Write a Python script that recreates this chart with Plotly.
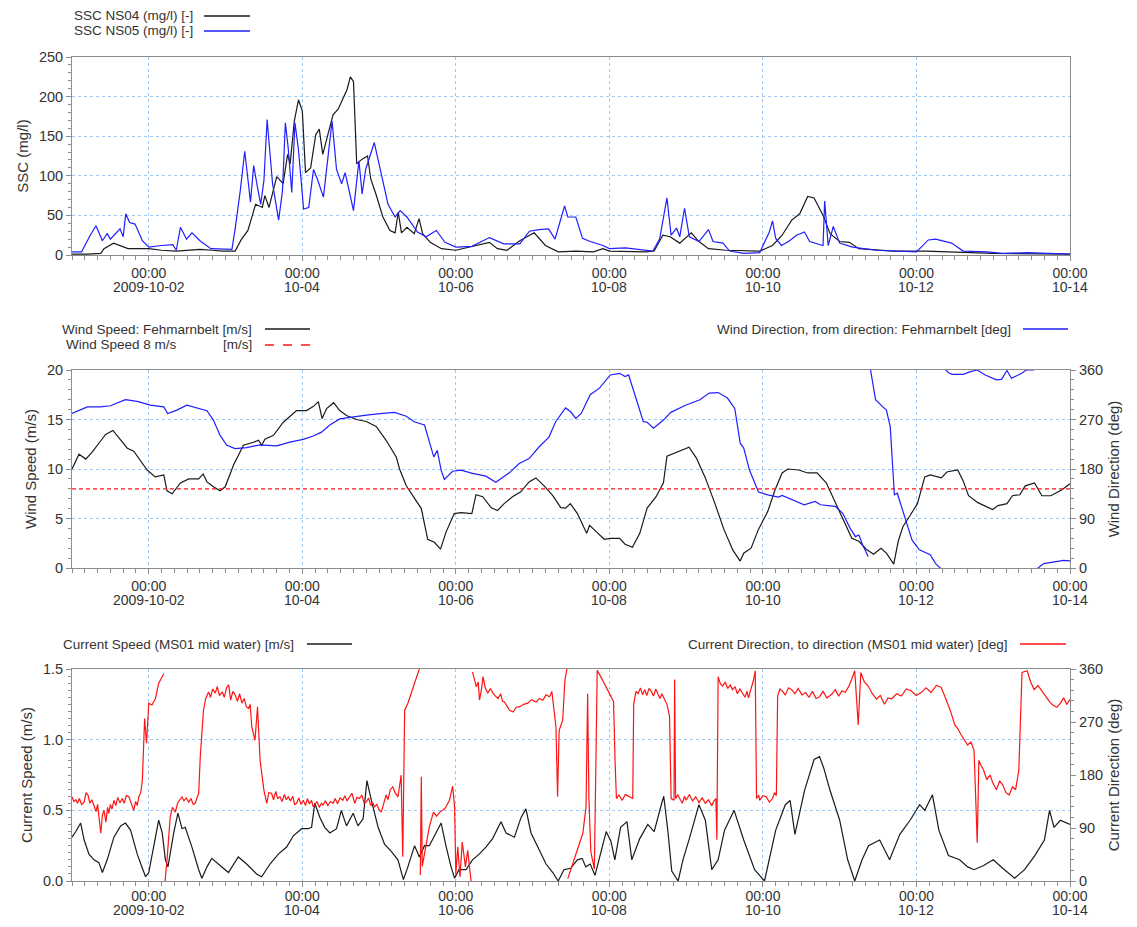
import pandas as pd
import plotly.graph_objects as go

# all series: (hours after 2009-10-01 00:00, value)
T0 = pd.Timestamp("2009-10-01 00:00")

ssc_ns04 = [(0, 1), (5, 1), (9, 2), (10, 8), (13, 15), (15, 12), (17.5, 8), (24, 8), (28, 6), (32.6, 5),
            (40, 7), (44, 6), (47, 5), (51, 5), (53, 20), (55, 31), (57.4, 64), (59.5, 60), (60.3, 75),
            (61.6, 60), (64, 99), (66, 90), (67.4, 127), (68.2, 115), (69.5, 169), (70.8, 196), (72, 182),
            (73, 104), (74.6, 110), (76.2, 152), (77.3, 159), (78.4, 127), (80, 154), (81.6, 177),
            (83.2, 184), (84.3, 193), (86, 209), (87, 225), (88, 219), (89, 115), (90.7, 121), (92.4, 125),
            (93.4, 96), (95, 77), (97.2, 48), (99.4, 31), (101, 28), (102, 54), (103, 28), (104.7, 35),
            (107, 27), (108.5, 46), (109.6, 27), (112, 16), (115.5, 8), (120, 6), (125, 11), (130.5, 16),
            (133, 8), (136, 6), (140, 18), (144.5, 28), (148, 12), (152, 4), (157.5, 5), (163, 4), (166, 8),
            (168, 5), (179.5, 4), (182, 5), (184.7, 25), (187, 23), (190, 15), (193.6, 28), (196, 17),
            (199, 8), (204.5, 6), (215, 5), (219, 12), (222, 25), (225, 44), (227.5, 52), (230, 74),
            (232, 72), (234.8, 50), (237, 27), (240, 17), (243, 16), (246, 8), (256.7, 5), (267, 5),
            (277.6, 3), (288, 2), (312, 1)]

ssc_ns05 = [(0, 4), (3, 4), (5.7, 25), (7.5, 37), (9.5, 18), (11, 27), (12, 20), (15, 33), (16, 23),
            (16.8, 52), (18, 41), (19.7, 39), (22, 18), (24, 10), (28, 12), (31.5, 13), (32.6, 6),
            (33.9, 35), (35.8, 20), (37.5, 28), (40, 18), (43.4, 8), (50, 7), (51, 33), (52.6, 81),
            (54, 131), (55.8, 67), (56.8, 113), (58, 85), (59, 64), (60, 94), (61, 171), (62.7, 90),
            (64.6, 44), (65.8, 81), (66.7, 167), (67.6, 135), (68.7, 79), (69.7, 167), (70.8, 133),
            (72.4, 58), (74, 60), (75.5, 108), (76.7, 96), (78.6, 73), (80, 127), (81.3, 169), (82.7, 108),
            (84.3, 90), (85.4, 104), (88, 56), (89.7, 119), (90.7, 77), (91.8, 108), (94.5, 142),
            (96.7, 102), (98.8, 64), (101, 48), (102.6, 56), (104.7, 48), (108, 29), (110.7, 23),
            (113.9, 31), (116.6, 16), (120, 10), (125, 11), (130.5, 22), (135, 14), (140, 14), (143, 30),
            (146, 32), (149, 33), (151, 20), (153, 48), (154, 62), (155, 48), (157.5, 48), (159.6, 21),
            (162, 17), (166, 12), (168, 8), (173, 9), (181.6, 5), (183.7, 20), (186, 72), (187.3, 25),
            (189, 34), (190, 23), (191.5, 59), (193, 23), (196, 17), (199, 32), (200.4, 17), (203.5, 15),
            (205.6, 5), (210, 2), (215, 3), (218, 29), (219, 43), (220, 21), (221.8, 12), (224, 17),
            (226.5, 25), (229, 29), (230.6, 17), (234.8, 12), (235.3, 68), (236.4, 12), (238, 36),
            (240, 15), (244, 10), (251.5, 6), (261, 5), (264, 4), (267.7, 19), (270, 20), (275, 15),
            (278.6, 5), (286, 4), (291, 2), (298.5, 3), (312, 1)]

wind_speed = [(0, 10.0), (2.2, 11.5), (4.3, 11.0), (6.3, 11.7), (8.4, 12.6), (10.5, 13.5), (12.8, 13.9),
              (15.2, 12.9), (17.3, 12.1), (19.3, 11.8), (21.4, 10.9), (23.5, 9.9), (26, 9.2), (28.7, 9.4),
              (29.7, 7.8), (31.3, 7.5), (33.9, 8.6), (36.5, 9.0), (39.6, 9.0), (41, 9.5), (42.2, 8.7),
              (44.2, 8.2), (46.3, 7.8), (47.9, 8.2), (50.5, 10.4), (53.6, 12.4), (56.7, 12.7), (58.3, 12.9),
              (59.3, 12.4), (60.3, 13.0), (63, 13.4), (66, 14.7), (68.1, 15.3), (70.2, 15.9), (73.3, 15.9),
              (75.4, 16.3), (77, 16.8), (78.2, 15.1), (79.6, 16.1), (81.8, 16.7), (83.7, 15.9), (85.8, 15.4),
              (88.9, 15.0), (92, 14.8), (95.1, 14.3), (98.2, 12.9), (101.4, 11.2), (102.4, 10.0),
              (104.5, 8.3), (107.6, 6.8), (109.2, 6.0), (111.2, 2.9), (113.3, 2.6), (115.2, 1.9),
              (116.9, 3.6), (119.5, 5.5), (121.6, 5.6), (125, 5.5), (126.3, 7.4), (128.4, 7.2), (131, 6.1),
              (133, 5.8), (135.1, 6.5), (137.7, 7.2), (140.3, 7.7), (142.9, 8.7), (145, 9.1), (147.6, 8.3),
              (150.3, 7.3), (152.8, 6.1), (154.3, 6.05), (155.8, 6.5), (158, 5.5), (160.9, 3.5), (161.8, 4.3),
              (163.8, 3.7), (166.4, 2.9), (168.3, 3.0), (171.2, 3.0), (172.9, 2.4), (175.2, 2.1), (177.5, 3.5),
              (179.8, 6.05), (182.6, 7.2), (184.9, 8.6), (186, 11.3), (188.3, 11.6), (190.6, 11.9),
              (192.9, 12.2), (195.2, 11.1), (198, 9.1), (200.9, 6.6), (203.8, 3.9), (206.6, 1.8), (208.9, 0.7),
              (210, 1.5), (212.3, 2.0), (214.6, 3.9), (217.5, 5.7), (219.8, 7.9), (222, 9.6), (223.8, 10.0),
              (227.2, 9.9), (230, 9.6), (232.9, 9.6), (235.8, 8.6), (238.6, 6.6), (241.5, 4.5), (243.8, 3.0),
              (246, 2.7), (248.3, 1.9), (250.6, 1.4), (252.9, 2.0), (254.6, 1.5), (256.9, 0.4), (258.3, 2.7),
              (259.8, 4.2), (262, 5.3), (264.3, 6.5), (266.6, 9.2), (268.3, 9.4), (271.8, 9.1), (273.5, 9.7),
              (276.9, 9.9), (278.6, 8.8), (280.3, 7.3), (283.2, 6.6), (287.8, 5.9), (289.5, 6.3), (292.3, 6.5),
              (294, 7.3), (296.3, 7.4), (298, 8.3), (300.9, 8.6), (303.2, 7.3), (306, 7.3), (309.5, 7.9),
              (312, 8.5)]

wind_limit = 8  # m/s reference line

# None = gap where the direction wraps past 0/360
wind_dir = [(0, 281), (2.7, 288), (4.8, 293), (8.9, 293), (12, 295), (16.7, 306), (20.4, 303), (24.5, 296),
            (28.7, 293), (29.9, 281), (32.8, 287), (35.9, 296), (39, 291), (42.2, 286), (44.2, 269),
            (46.3, 241), (48.4, 223), (51, 217), (54.6, 219), (58.8, 224), (64, 222), (68.1, 229),
            (72.3, 234), (75.4, 240), (78, 247), (80.6, 260), (83.7, 271), (87.9, 275), (92, 278),
            (97.2, 281), (100.8, 283), (104.5, 276), (107, 266), (110.2, 260), (111.7, 229), (113.1, 202),
            (114.2, 214), (115.4, 178), (116.4, 161), (119, 176), (121.6, 178), (125.2, 172), (129.4, 167),
            (132.5, 156), (136.7, 173), (139.8, 190), (142.9, 199), (146, 220), (149.1, 238), (151.2, 266),
            (154.3, 291), (155.9, 284), (157.5, 272), (159.2, 281), (162, 315), (164.9, 327), (168.3, 351),
            (171.2, 354), (172.9, 348), (174, 351), (176.3, 309), (178.6, 266), (179.8, 265), (181.8, 254),
            (184.9, 269), (187.2, 283), (191.8, 296), (196.3, 306), (199.2, 318), (202, 319), (204.9, 309),
            (207.2, 290), (208.9, 227), (210, 218), (211.8, 178), (214.6, 138), (217.5, 133), (220.9, 129),
            (222, 132), (225.5, 124), (228.9, 115), (232.3, 121), (234, 115), (238.6, 112), (240.9, 100),
            (243.2, 73), (244.9, 57), (246, 60), (247.2, 42), (248.9, 21), (249.3, None),
            (249.6, 362), (251.2, 306), (253.5, 293), (254.6, 287), (255.8, 257), (256.3, 203), (257.1, 133),
            (258, 136), (260.3, 94), (262.6, 51), (264.9, 33), (268.3, 24), (270, 8), (271.8, -2),
            (272.3, None),
            (272.9, 362), (274, 355), (275.2, 352), (278.6, 352), (280.9, 357), (283, 360), (285.5, 351),
            (289, 342), (290.6, 343), (292.3, 359), (293.7, 345), (296.9, 354), (298.3, 360), (300.6, 360),
            (301, 363), (301.3, None),
            (301.6, -3), (302, 0), (303.8, 8), (307.2, 12), (310, 14), (312, 13)]

cur_speed = [(0, 0.31), (1.2, 0.35), (2.7, 0.41), (3.8, 0.29), (5.3, 0.19), (6.9, 0.15), (8.4, 0.13),
             (9.5, 0.06), (11, 0.15), (13.1, 0.31), (15.2, 0.39), (16.7, 0.41), (18.3, 0.36), (20.4, 0.19),
             (22, 0.09), (23, 0.03), (24, 0.06), (25.6, 0.24), (27.1, 0.43), (28.2, 0.34), (29.2, 0.15),
             (30, 0.10), (31.8, 0.34), (33.1, 0.48), (34.4, 0.37), (35.4, 0.38), (37.5, 0.24), (39.6, 0.08),
             (40.6, 0.02), (42.2, 0.10), (43.7, 0.16), (46.3, 0.11), (48.9, 0.06), (52, 0.17), (54.6, 0.12),
             (57.7, 0.05), (59.3, 0.03), (61.9, 0.12), (64.5, 0.19), (67.1, 0.24), (69.2, 0.32), (71.8, 0.37),
             (73.8, 0.37), (74.9, 0.38), (75.9, 0.55), (77.5, 0.45), (79, 0.38), (80.6, 0.34), (82.7, 0.37),
             (84.2, 0.50), (85.8, 0.39), (87.9, 0.48), (89.4, 0.39), (91, 0.44), (92.2, 0.71), (93.6, 0.57),
             (95.7, 0.38), (97.7, 0.26), (99.8, 0.21), (101.9, 0.15), (103.6, 0.01), (105, 0.10),
             (107.1, 0.25), (108.6, 0.17), (110.2, 0.25), (111.7, 0.25), (113.8, 0.34), (115.4, 0.41),
             (117, 0.24), (118.5, 0.10), (119.6, 0.02), (121, 0.08), (123.2, 0.08), (125.2, 0.15),
             (127.3, 0.19), (129.4, 0.24), (131.5, 0.30), (134.1, 0.42), (135.7, 0.34), (138.3, 0.31),
             (140.4, 0.45), (141.9, 0.51), (143.5, 0.34), (145.6, 0.24), (148.2, 0.12), (150.3, 0.06),
             (152, 0.00), (153.8, 0.08), (155.9, 0.09), (158, 0.15), (159.5, 0.16), (160.6, 0.10),
             (162, 0.12), (163.5, 0.04), (165, 0.18), (167, 0.35), (168.5, 0.28), (169.7, 0.15),
             (171.5, 0.38), (173.5, 0.42), (175, 0.15), (177.5, 0.30), (180, 0.40), (182, 0.35), (184, 0.52),
             (185, 0.60), (186.3, 0.35), (187.5, 0.07), (189.5, 0.00), (191, 0.15), (193, 0.30), (196, 0.54),
             (198, 0.43), (200, 0.08), (202, 0.15), (204, 0.36), (207, 0.50), (210, 0.29), (213.4, 0.08),
             (216.5, 0.00), (220, 0.36), (223, 0.54), (224.5, 0.57), (226, 0.33), (229, 0.64), (232, 0.86),
             (233.7, 0.88), (235, 0.80), (237, 0.64), (240, 0.43), (242.5, 0.15), (244.7, 0.00), (247, 0.15),
             (249, 0.25), (252.5, 0.29), (255.6, 0.15), (258.8, 0.33), (262, 0.43), (265, 0.54), (266.6, 0.50),
             (269, 0.61), (271, 0.36), (274, 0.18), (277.5, 0.15), (280, 0.10), (282, 0.08), (285, 0.11),
             (288, 0.15), (291.5, 0.08), (294.7, 0.02), (297.8, 0.08), (301, 0.18), (304, 0.29), (305.6, 0.50),
             (307, 0.38), (309, 0.43), (312, 0.40)]

cur_dir = [(0, 143), (0.6, 135), (1.2, 138), (1.7, 132), (2.3, 140), (3, 130), (3.8, 134), (4.4, 150),
           (5, 146), (5.6, 132), (6.2, 138), (6.9, 126), (7.5, 118), (8, 130), (8.4, 109), (9, 81),
           (9.5, 112), (10, 120), (10.6, 100), (11.1, 125), (11.5, 115), (12, 130), (12.5, 122), (13.1, 137),
           (13.7, 128), (14.3, 142), (15, 133), (15.7, 140), (16.3, 132), (17, 145), (17.8, 143), (18.4, 135),
           (19, 125), (19.3, 120), (19.9, 135), (20.4, 128), (20.9, 143), (21.5, 150), (22, 171), (22.7, 276),
           (23.3, 234), (24, 302), (25, 299), (26.1, 310), (27.1, 336), (28.7, 352), (28.8, None),
           (29.1, 0), (29.7, 35), (30.7, 109), (31.4, 125), (32.3, 117), (33, 132), (33.7, 138), (34.4, 143),
           (35, 136), (35.7, 141), (36.5, 134), (37.2, 140), (37.9, 130), (38.5, 132), (39, 140), (39.6, 149),
           (40.1, 211), (41.1, 290), (41.8, 310), (42.7, 321), (43.3, 312), (44, 326), (44.8, 319),
           (45.4, 330), (46.1, 315), (47, 321), (47.6, 312), (48.3, 328), (49, 333), (49.6, 307), (50.3, 322),
           (51, 316), (51.7, 305), (52.4, 318), (53.1, 302), (53.8, 310), (54.5, 296), (55.2, 293),
           (55.7, 300), (56.2, 262), (57.2, 239), (58, 296), (58.8, 205), (60, 154), (60.9, 132), (61.5, 150),
           (62.4, 149), (63, 138), (63.7, 152), (64.3, 140), (65, 143), (65.7, 135), (66.4, 147), (67, 138),
           (67.6, 143), (68.3, 136), (69, 144), (69.6, 130), (70.2, 132), (70.9, 141), (71.6, 130), (72.3, 137),
           (73, 128), (73.6, 140), (74.2, 131), (74.9, 137), (75.4, 126), (75.9, 129), (76.6, 135), (77.3, 125),
           (78, 132), (78.5, 129), (79.2, 136), (80, 128), (80.8, 135), (81.6, 132), (82.3, 140), (83, 131),
           (83.8, 141), (84.7, 137), (85.3, 145), (86, 136), (86.8, 143), (87.5, 149), (88.4, 132), (89.1, 142),
           (89.9, 140), (90.6, 146), (91.3, 133), (92, 134), (92.7, 141), (93.4, 128), (94, 133), (94.6, 126),
           (95.3, 130), (96, 121), (96.7, 117), (97.4, 130), (98.2, 146), (98.8, 138), (99.5, 155),
           (100.3, 160), (101, 150), (101.9, 143), (102.4, 165), (102.9, 180), (103.4, 41), (104, 290),
           (105, 302), (106.6, 327), (108.1, 353), (108.7, 362), (108.8, None),
           (108.9, 10), (109.2, 177), (109.5, 25), (110.5, 58), (111.7, 92), (113, 117), (114, 110), (115, 117),
           (116.6, 123), (118, 137), (119, 161), (119.6, 126), (120, 12), (120.6, 58), (121.3, 7), (122, 66),
           (123, 24), (123.7, 52), (124.5, 7), (124.8, -2), (125, None),
           (125.2, 355), (125.8, 340), (126.4, 330), (127, 338), (127.4, 307), (128, 325), (128.5, 347),
           (129.2, 328), (130, 319), (130.8, 327), (131.6, 319), (132.4, 314), (133.2, 310), (134, 318),
           (134.6, 305), (135.2, 304), (136, 298), (136.8, 290), (137.9, 287), (138.9, 295), (140, 296),
           (141.2, 300), (142.5, 302), (143.7, 308), (145.1, 304), (146.1, 310), (147.2, 307), (148.2, 316),
           (149.3, 313), (150, 322), (150.8, 285), (151.3, 262), (151.8, 143), (152.3, 256), (153.4, 273),
           (154.1, 341), (154.8, 362), (154.9, None),
           (155, 4), (156.5, 29), (158.1, 58), (159.7, 81), (160.7, 126), (161.2, 318), (161.6, 140),
           (162.2, 50), (163.3, 20), (163.8, 180), (164.2, 358), (165, 350), (166.5, 335), (168, 320),
           (169.3, 305), (169.8, 200), (170.2, 140), (171, 146), (172, 137), (173, 147), (174.5, 143),
           (175.3, 140), (175.6, 300), (176.3, 322), (177, 318), (177.7, 328), (178.4, 316), (179, 325),
           (179.7, 315), (180.4, 327), (181, 323), (181.8, 314), (182.5, 326), (183, 320), (183.8, 310),
           (184.4, 318), (185, 311), (186, 300), (186.8, 280), (187.3, 140), (188.2, 137), (188.4, 342),
           (188.7, 140), (189.4, 146), (190, 140), (190.8, 132), (191.5, 144), (192, 137), (193, 147),
           (194, 136), (195, 143), (196, 133), (197, 141), (198, 132), (199, 138), (200, 128), (200.7, 136),
           (201.3, 140), (201.6, 70), (202, 347), (202.7, 335), (203.4, 331), (204.2, 338), (205, 327),
           (205.8, 333), (206.5, 325), (207.3, 330), (208, 318), (208.8, 326), (209.6, 320), (210.4, 312),
           (211, 322), (211.5, 311), (212.2, 325), (213, 340), (213.6, 357), (214, 140), (214.7, 146),
           (215, 137), (216, 145), (217, 143), (218, 134), (219, 140), (219.6, 150), (220.2, 145), (220.6, 314),
           (221.3, 326), (222, 323), (223, 316), (224, 328), (225, 325), (226, 318), (227, 327), (228.2, 316),
           (229.3, 320), (230.4, 312), (231.5, 322), (232.6, 310), (233.7, 313), (234.8, 322), (236, 311),
           (237.5, 317), (238.6, 325), (239.7, 314), (240.7, 323), (241.7, 320), (242.8, 330), (243.8, 343),
           (244.7, 357), (245.8, 265), (246.6, 354), (247.7, 338), (248.9, 331), (250.2, 318), (251.5, 309),
           (252.7, 315), (254, 300), (255.1, 311), (256.2, 309), (257.8, 318), (259.3, 314), (260.8, 326),
           (262.3, 323), (263.9, 315), (265.5, 320), (267, 328), (268.6, 320), (270.2, 332), (271.7, 329),
           (273.2, 309), (274.8, 286), (276, 265), (277, 258), (278, 248), (279, 240), (280, 231), (281, 236),
           (282, 222), (283, 65), (283.5, 205), (284.2, 196), (285, 188), (286, 172), (287, 180), (288, 165),
           (289, 155), (290, 170), (291, 163), (292, 150), (293, 146), (294, 160), (295, 155), (296, 188),
           (297, 354), (298.6, 357), (299.7, 338), (300.8, 325), (302, 332), (303.2, 323), (304.5, 312),
           (305.8, 303), (306.8, 298), (307.9, 295), (309, 302), (310, 311), (311, 300), (312, 308)]

day_ticks = ["2009-10-02", "2009-10-04", "2009-10-06", "2009-10-08", "2009-10-10", "2009-10-12", "2009-10-14"]
time_text = ["00:00"] * 7
date_text = ["2009-10-02", "10-04", "10-06", "10-08", "10-10", "10-12", "10-14"]

# the page body has an 8px margin, so the figure is a bit smaller and offset coordinates are used
OFF = 8
W, H = 1137 - 2 * OFF, 927 - 2 * OFF
BLACK, BLUE, RED = "#1a1a1a", "#1f1fff", "#ff1414"
TXT = "#333333"
FONT = "Arial, Liberation Sans, sans-serif"


def xy(pairs):
    x = [T0 + pd.Timedelta(hours=h) for h, v in pairs]
    y = [v for h, v in pairs]
    return x, y


def px(v):
    return (v - OFF) / W


def py(v):
    return 1 - (v - OFF) / H


fig = go.Figure()

x, y = xy(ssc_ns04)
fig.add_trace(go.Scatter(x=x, y=y, mode="lines", line=dict(color=BLACK, width=1.2), xaxis="x", yaxis="y"))
x, y = xy(ssc_ns05)
fig.add_trace(go.Scatter(x=x, y=y, mode="lines", line=dict(color=BLUE, width=1.2), xaxis="x", yaxis="y"))

x, y = xy(wind_speed)
fig.add_trace(go.Scatter(x=x, y=y, mode="lines", line=dict(color=BLACK, width=1.2), xaxis="x2", yaxis="y2"))
fig.add_trace(go.Scatter(x=[T0, T0 + pd.Timedelta(days=13)], y=[wind_limit, wind_limit], mode="lines",
                         line=dict(color=RED, width=1.2, dash="4px,3px"), xaxis="x2", yaxis="y2"))
x, y = xy(wind_dir)
fig.add_trace(go.Scatter(x=x, y=y, mode="lines", line=dict(color=BLUE, width=1.2), connectgaps=False,
                         xaxis="x2", yaxis="y3"))

x, y = xy(cur_speed)
fig.add_trace(go.Scatter(x=x, y=y, mode="lines", line=dict(color=BLACK, width=1.2), xaxis="x3", yaxis="y4"))
x, y = xy(cur_dir)
fig.add_trace(go.Scatter(x=x, y=y, mode="lines", line=dict(color=RED, width=1.2), connectgaps=False,
                         xaxis="x3", yaxis="y5"))

frame = dict(showline=True, linecolor="#8c8c8c", linewidth=1, mirror=True, ticks="outside", ticklen=5,
             tickcolor="#8c8c8c", tickfont=dict(size=14.5, color=TXT, family=FONT), zeroline=False,
             gridcolor="#9fc9f2", griddash="dot", gridwidth=1, automargin=False)

xdom = [px(72), px(1070)]
xcommon = dict(frame, type="date", range=[T0, T0 + pd.Timedelta(days=13)], domain=xdom, showgrid=True,
               tickmode="array", tickvals=day_ticks, ticktext=time_text,
               tickfont=dict(size=14, color=TXT, family=FONT),
               minor=dict(dtick=4 * 3600 * 1000, tick0=T0, ticks="outside", ticklen=4, tickcolor="#8c8c8c",
                          showgrid=False))


def ycommon(lo, hi, step, minor, title, dom, **kw):
    d = dict(frame, range=[lo, hi], dtick=step, tick0=0, domain=dom, showgrid=True,
             minor=dict(dtick=minor, ticks="outside", ticklen=3, tickcolor="#8c8c8c", showgrid=False),
             title=dict(text=title, font=dict(size=15, color=TXT, family=FONT), standoff=6))
    d.update(kw)
    return d


fig.update_layout(
    width=W, height=H, margin=dict(l=0, r=0, t=0, b=0, autoexpand=False),
    paper_bgcolor="white", plot_bgcolor="white", showlegend=False,
    font=dict(family=FONT, color=TXT),
    xaxis=dict(xcommon, anchor="y"),
    xaxis2=dict(xcommon, anchor="y2"),
    # bottom panel: labels pulled up a little so both label rows stay inside the page
    xaxis3=dict(xcommon, anchor="y4", ticklabelstandoff=-3),
    yaxis=ycommon(0, 250, 50, 10, "SSC (mg/l)", [py(255), py(57)], anchor="x"),
    yaxis2=ycommon(0, 20, 5, 1, "Wind Speed (m/s)", [py(568), py(370)], anchor="x2"),
    yaxis3=ycommon(0, 360, 90, 18, "Wind Direction (deg)", [py(568), py(370)], anchor="x2",
                   overlaying="y2", side="right", showgrid=False),
    yaxis4=ycommon(0, 1.5, 0.5, 0.05, "Current Speed (m/s)", [py(881), py(669)], anchor="x3",
                   tickformat=".1f"),
    yaxis5=ycommon(0, 360, 90, 18, "Current Direction (deg)", [py(881), py(669)], anchor="x3",
                   overlaying="y4", side="right", showgrid=False),
)

# second line of the time axis labels (dates), placed tighter than plotly's own line spacing
for xref, ymid in (("x", 287), ("x2", 600), ("x3", 910)):
    for tv, dt in zip(day_ticks, date_text):
        fig.add_annotation(text=dt, x=tv, y=py(ymid), xref=xref, yref="paper", xanchor="center",
                           yanchor="middle", showarrow=False, borderpad=0,
                           font=dict(size=14, color=TXT, family=FONT))

# legends drawn as text followed by a line sample (text on the left, line on the right)
legend_rows = [
    ("SSC NS04 (mg/l) [-]", 195, 16, 204, 250, BLACK, "solid"),
    ("SSC NS05 (mg/l) [-]", 195, 31, 204, 250, BLUE, "solid"),
    ("Wind Speed: Fehmarnbelt [m/s]", 254, 329, 265, 310, BLACK, "solid"),
    ("[m/s]", 254, 345, 265, 310, RED, "dash"),
    ("Wind Direction, from direction: Fehmarnbelt [deg]", 1013, 329, 1023, 1068, BLUE, "solid"),
    ("Current Speed (MS01 mid water) [m/s]", 296, 644, 307, 352, BLACK, "solid"),
    ("Current Direction, to direction (MS01 mid water) [deg]", 1010, 644, 1020, 1066, RED, "solid"),
]
for text, xr, yc, x0, x1, col, dash in legend_rows:
    fig.add_annotation(text=text, x=px(xr), y=py(yc), xref="paper", yref="paper", xanchor="right",
                       yanchor="middle", showarrow=False, font=dict(size=13.5, color=TXT, family=FONT))
    fig.add_shape(type="line", xref="paper", yref="paper", x0=px(x0), x1=px(x1), y0=py(yc), y1=py(yc),
                  line=dict(color=col, width=1.3, dash=dash))
fig.add_annotation(text="Wind Speed 8 m/s", x=px(64), y=py(345), xref="paper", yref="paper", xanchor="left",
                   yanchor="middle", showarrow=False, font=dict(size=13.5, color=TXT, family=FONT))

fig.write_html("out.html")
